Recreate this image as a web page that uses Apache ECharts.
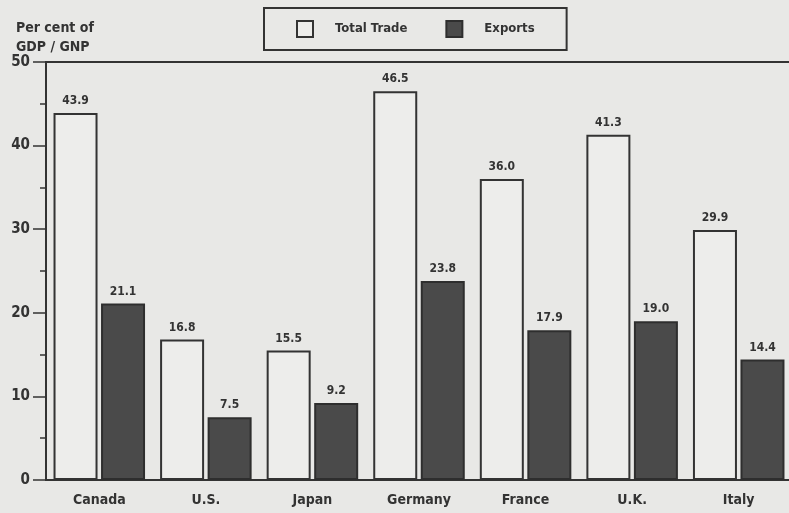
<!DOCTYPE html>
<html>
<head>
<meta charset="utf-8">
<script src="https://cdn.jsdelivr.net/npm/echarts@6/dist/echarts.min.js"></script>
<style>
html,body{margin:0;padding:0;background:#e8e8e6;overflow:hidden;}
#c{width:789px;height:513px;}
</style>
</head>
<body>
<div id="c"></div>
<script>
var categories = ['Canada', 'U.S.', 'Japan', 'Germany', 'France', 'U.K.', 'Italy'];
var totalTrade = [43.9, 16.8, 15.5, 46.5, 36.0, 41.3, 29.9];
var exportsData = [21.1, 7.5, 9.2, 23.8, 17.9, 19.0, 14.4];
var seriesNames = ['Total Trade', 'Exports'];
var yTitle = 'Per cent of\nGDP / GNP';

var FONT = '"Liberation Sans Narrow", "DejaVu Sans Condensed", "Liberation Sans", sans-serif';
var INK = '#333333';
var chart = echarts.init(document.getElementById('c'), null, {renderer: 'canvas'});
chart.setOption({
  backgroundColor: '#e8e8e6',
  animation: false,
  title: {
    text: yTitle,
    left: 11, top: 14,
    textStyle: {fontFamily: FONT, fontWeight: 'bold', fontSize: 14, color: INK, lineHeight: 19}
  },
  legend: {
    left: 264, top: 8,
    padding: [12, 32],
    borderColor: INK, borderWidth: 2,
    itemWidth: 16, itemHeight: 16, itemGap: 38,
    icon: 'rect',
    textStyle: {fontFamily: FONT, fontWeight: 'bold', fontSize: 13, color: INK, padding: [0, 0, 0, 17]},
    data: seriesNames
  },
  grid: {
    left: 46, width: 746, top: 62, bottom: 33,
    outerBoundsMode: 'none',
    containLabel: false,
    show: true, borderColor: INK, borderWidth: 2, backgroundColor: 'transparent'
  },
  xAxis: {
    type: 'category',
    data: categories,
    axisLine: {lineStyle: {color: INK, width: 2}},
    axisTick: {show: false},
    axisLabel: {fontFamily: FONT, fontWeight: 'bold', fontSize: 14, color: INK, margin: 13}
  },
  yAxis: {
    type: 'value',
    min: 0, max: 50, interval: 10,
    axisLine: {show: true, lineStyle: {color: INK, width: 2}},
    axisTick: {show: true, length: 13, lineStyle: {color: INK, width: 1.5}},
    minorTick: {show: true, splitNumber: 2, length: 6, lineStyle: {color: INK, width: 1.5}},
    splitLine: {show: false},
    axisLabel: {fontFamily: FONT, fontWeight: 'bold', fontSize: 15, color: INK, margin: 16}
  },
  series: [
    {
      name: seriesNames[0], type: 'bar', data: totalTrade,
      barWidth: 44, barGap: '8%',
      itemStyle: {color: '#ededeb', borderColor: INK, borderWidth: 2},
      label: {show: true, position: 'top', distance: 6, formatter: function(p){return p.value.toFixed(1);},
        fontFamily: FONT, fontWeight: 'bold', fontSize: 12, color: INK}
    },
    {
      name: seriesNames[1], type: 'bar', data: exportsData,
      barWidth: 44,
      itemStyle: {color: '#4a4a4a', borderColor: '#2e2e2e', borderWidth: 2},
      label: {show: true, position: 'top', distance: 6, formatter: function(p){return p.value.toFixed(1);},
        fontFamily: FONT, fontWeight: 'bold', fontSize: 12, color: INK}
    }
  ]
});
</script>
</body>
</html>
